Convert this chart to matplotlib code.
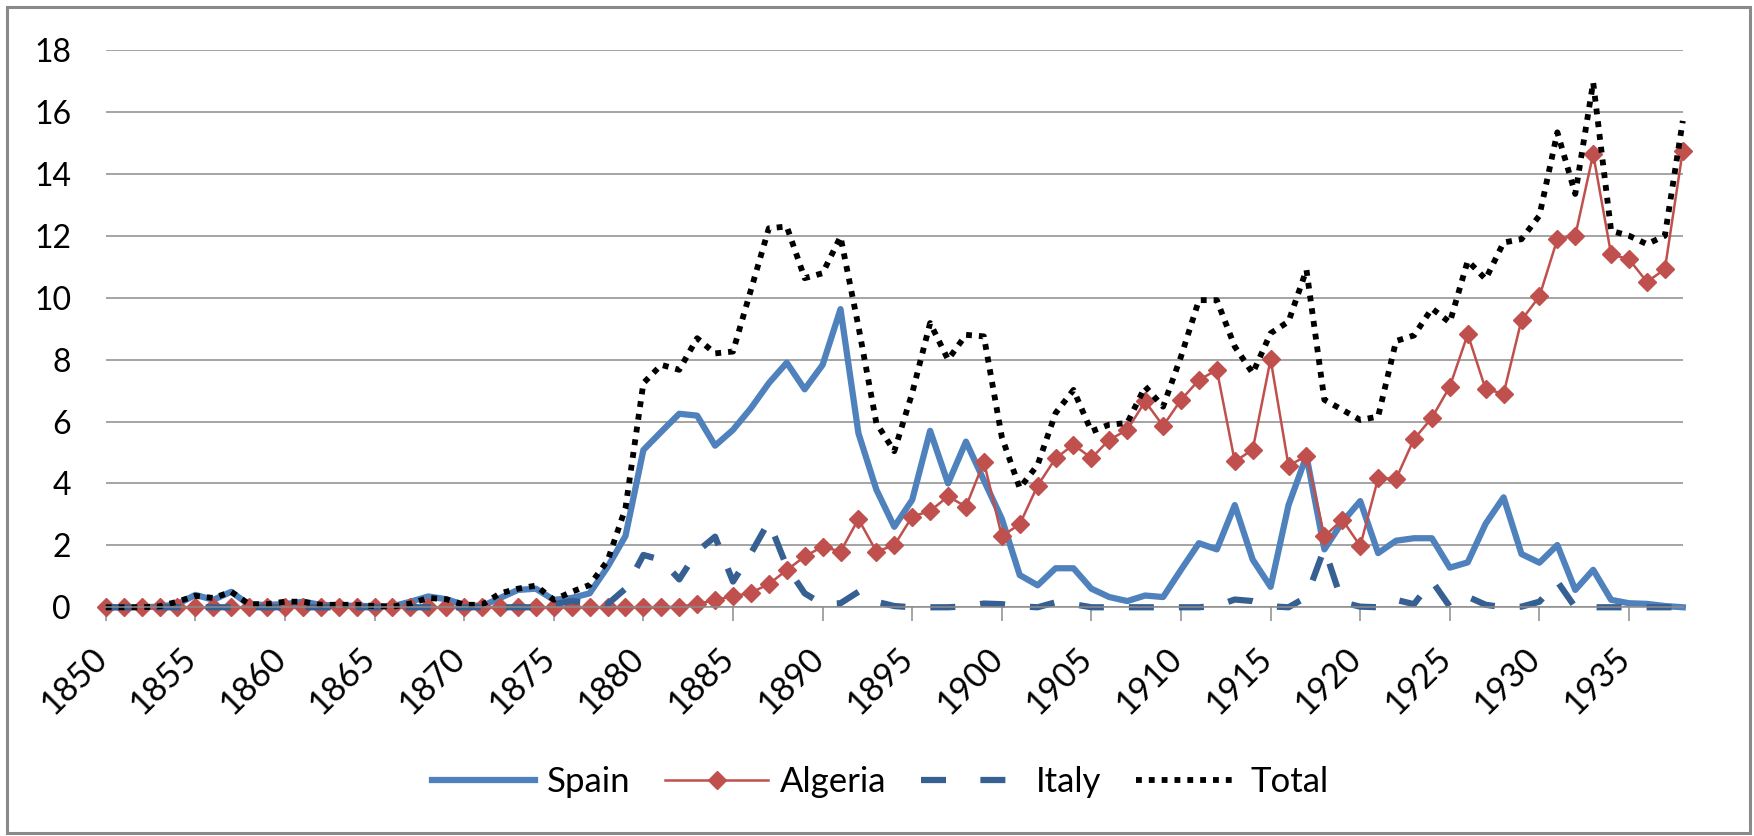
import numpy as np
import matplotlib
matplotlib.use("Agg")
import matplotlib.pyplot as plt
from matplotlib.patches import Rectangle
from matplotlib.transforms import ScaledTranslation

plt.rcParams['font.family'] = ['Lato', 'DejaVu Sans']

# years on the category axis
years = list(range(1850, 1939))

spain = [0, 0, 0, 0.02, 0.1, 0.4, 0.24, 0.5, 0.08, 0.08,
         0.1, 0.18, 0.08, 0.05, 0.05, 0.03, 0.03, 0.18, 0.35, 0.26,
         0.08, 0.04, 0.3, 0.56, 0.6, 0.24, 0.3, 0.45, 1.3, 2.3,
         5.08, 5.67, 6.25, 6.19, 5.22, 5.73, 6.43, 7.24, 7.9, 7.04,
         7.83, 9.63, 5.62, 3.8, 2.6, 3.47, 5.7, 4.0, 5.35, 4.1,
         2.86, 1.04, 0.71, 1.26, 1.26, 0.6, 0.33, 0.2, 0.38, 0.33,
         1.21, 2.07, 1.87, 3.3, 1.54, 0.66, 3.3, 4.89, 1.87, 2.75,
         3.43, 1.75, 2.15, 2.23, 2.23, 1.28, 1.45, 2.7, 3.55, 1.72,
         1.44, 2.01, 0.56, 1.21, 0.24, 0.13, 0.11, 0.04, 0.0]

algeria = [0] * 32 + [
         0.02, 0.1, 0.24, 0.35, 0.47, 0.75, 1.2, 1.64,
         1.96, 1.8, 2.85, 1.8, 2.0, 2.93, 3.11, 3.58, 3.25, 4.7,
         2.3, 2.68, 3.93, 4.81, 5.25, 4.82, 5.41, 5.73, 6.65, 5.86,
         6.7, 7.34, 7.67, 4.71, 5.09, 8.01, 4.57, 4.89, 2.29, 2.83,
         1.98, 4.17, 4.15, 5.43, 6.12, 7.13, 8.82, 7.04, 6.9, 9.28,
         10.04, 11.89, 12.0, 14.64, 11.4, 11.24, 10.51, 10.92, 14.75]

italy = [0] * 25 + [
         0.1, 0.2, 0.15, 0.1, 0.6,
         1.69, 1.53, 0.9, 1.8, 2.28, 0.83, 1.74, 2.77, 1.31, 0.45,
         0.1, 0.13, 0.5, 0.18, 0.04, 0.0, 0.0, 0.0, 0.03, 0.12,
         0.1, 0.03, 0.0, 0.16, 0.1, 0.0, 0, 0, 0, 0,
         0, 0, 0.05, 0.25, 0.2, 0.03, 0.0, 0.33, 1.9, 0.16,
         0.02, 0.0, 0.24, 0.1, 0.85, 0.02, 0.34, 0.08, 0.0, 0.02,
         0.18, 0.83, 0.0, 0, 0, 0, 0, 0, 0]

total = [0, 0, 0, 0.03, 0.18, 0.37, 0.3, 0.5, 0.1, 0.1,
         0.18, 0.18, 0.08, 0.08, 0.08, 0.04, 0.02, 0.12, 0.3, 0.26,
         0.08, 0.08, 0.45, 0.6, 0.7, 0.24, 0.5, 0.72, 1.5, 3.2,
         7.24, 7.83, 7.67, 8.69, 8.2, 8.26, 10.25, 12.24, 12.3, 10.63,
         10.79, 11.97, 9.07, 5.95, 5.04, 6.92, 9.18, 8.0, 8.8, 8.75,
         5.5, 3.85, 4.6, 6.27, 7.02, 5.68, 5.9, 5.95, 7.13, 6.48,
         8.1, 9.92, 9.92, 8.42, 7.56, 8.85, 9.23, 10.9, 6.7, 6.38,
         6.05, 6.16, 8.6, 8.78, 9.65, 9.2, 11.19, 10.6, 11.78, 11.89,
         12.65, 15.34, 13.35, 16.95, 12.16, 12.0, 11.73, 12.0, 15.71]

fig = plt.figure(figsize=(17.54, 8.36), dpi=100)
ax = fig.add_axes([0.0603, 0.2736, 0.8991, 0.6666])

grid_col = '#8c8c8c'

ax.plot(years, spain, color='#4F81BD', lw=4.5, label='Spain', clip_on=False)
ax.plot(years, algeria, color='#C0504D', lw=1.8, marker='D', markersize=9,
        label='Algeria', clip_on=False)
ax.plot(years, italy, color='#376092', lw=4.5, dashes=(4, 4), label='Italy',
        clip_on=False)
ax.plot(years, total, color='black', lw=4.2, dashes=(1, 1.2), label='Total',
        clip_on=False)

ax.set_xlim(1850, 1938)
ax.set_ylim(0, 18)
ax.set_yticks(np.arange(0, 19, 2))
ax.set_xticks(np.arange(1850, 1936, 5))
ax.yaxis.grid(True, color=grid_col, lw=1.1)
ax.set_axisbelow(True)

for s in ['top', 'right', 'left']:
    ax.spines[s].set_visible(False)
ax.spines['bottom'].set_color(grid_col)
ax.spines['bottom'].set_linewidth(1.1)

ax.tick_params(axis='y', length=0, pad=25, labelsize=23)
ax.tick_params(axis='x', length=10, width=1.1, color=grid_col, direction='out',
               pad=15, labelsize=24.5)
for lab in ax.get_xticklabels():
    lab.set_rotation(45)
    lab.set_ha('right')
    lab.set_va('top')
    lab.set_transform(lab.get_transform() + ScaledTranslation(0.07, 0, fig.dpi_scale_trans))

leg = fig.legend(loc='center', bbox_to_anchor=(0.502, 0.065), ncol=4, frameon=False,
                 fontsize=25, handlelength=2.95, handletextpad=0.35, columnspacing=1.0)
# two dashes in the Italy legend sample, like the original
leg.legend_handles[2].set_dashes((4, 5.5))

# chart area border
fig.patches.append(Rectangle((7 / 1754, 3 / 836), 1743 / 1754, 826 / 836,
                             transform=fig.transFigure, fill=False,
                             edgecolor='#8a8a8a', lw=2.2))

fig.savefig('out.png', dpi=100)
